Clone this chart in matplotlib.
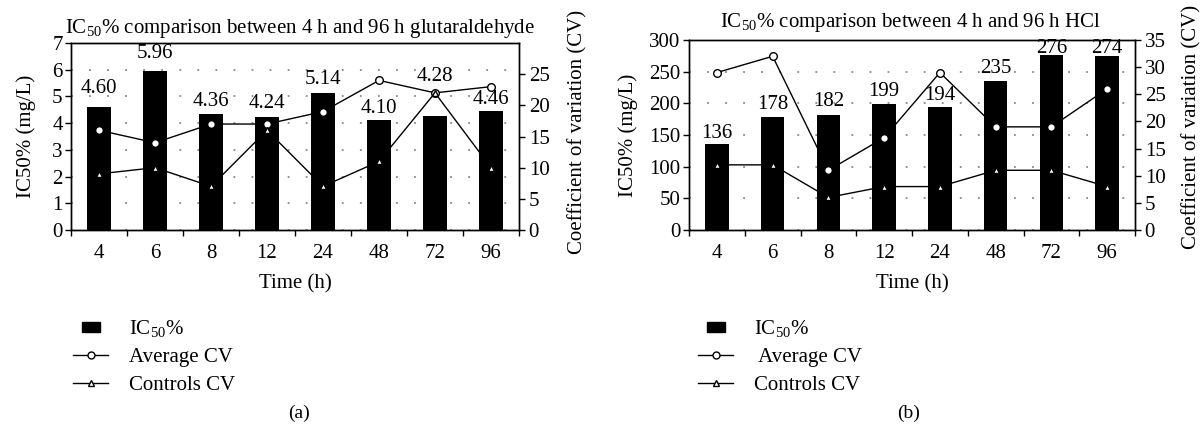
import matplotlib
matplotlib.use("Agg")
import matplotlib.pyplot as plt
from matplotlib.patches import Patch, Rectangle
from matplotlib.lines import Line2D
from matplotlib.legend_handler import HandlerPatch
import numpy as np

plt.rcParams['font.family'] = ['Liberation Serif', 'DejaVu Serif']
plt.rcParams['mathtext.fontset'] = 'custom'
plt.rcParams['mathtext.rm'] = 'Liberation Serif'
plt.rcParams['mathtext.it'] = 'Liberation Serif:italic'

# ---------------- data ----------------
times = ["4", "6", "8", "12", "24", "48", "72", "96"]

ic50_glut = [4.60, 5.96, 4.36, 4.24, 5.14, 4.10, 4.28, 4.46]
ic50_glut_labels = ["4.60", "5.96", "4.36", "4.24", "5.14", "4.10", "4.28", "4.46"]
avg_cv_glut = [16, 14, 17, 17, 19, 24, 22, 23]
ctrl_cv_glut = [9, 10, 7, 16, 7, 11, 22, 10]

ic50_hcl = [136, 178, 182, 199, 194, 235, 276, 274]
ic50_hcl_labels = ["136", "178", "182", "199", "194", "235", "276", "274"]
avg_cv_hcl = [29, 32, 11, 17, 29, 19, 19, 26]
ctrl_cv_hcl = [12, 12, 6, 8, 8, 11, 11, 8]

# label offsets above bar tops (pixels, to label centre)
label_dy_glut = [19, 17, 12, 13, 13, 12, 39, 11]
label_dy_hcl = [10, 13, 13.5, 12, 11.5, 13, 7, 8]

W, H = 1203, 428
fig = plt.figure(figsize=(W / 100, H / 100), dpi=100)
FS = 15


def small_rect(legend, orig_handle, xdescent, ydescent, width, height, fontsize):
    w = width * 0.5
    h = height * 0.75
    return Rectangle((-xdescent + (width - w) / 2, -ydescent + (height - h) / 2),
                     w, h, facecolor='black', edgecolor='black')


def panel(rect, ic50, labels, dys, avg, ctrl, ylim, yticks, ylim2, yticks2,
          title, title_x, title_y, leg_x, tag, tag_x, ylab_x, rlabel_x,
          rlabel_y):
    ax = fig.add_axes(rect)
    x = np.arange(len(times))
    ax.bar(x, ic50, width=0.42, color='black', zorder=2)
    ax.set_xlim(-0.5, len(times) - 0.5)
    ax.set_ylim(*ylim)
    ax.set_yticks(yticks)
    ax.set_yticklabels([str(t) for t in yticks], fontsize=FS)
    ax.set_xticks(x)
    ax.set_xticklabels(times, fontsize=FS)
    ax.set_xticks(np.arange(-0.5, len(times)), minor=True)
    ax.tick_params(axis='x', which='major', length=0, pad=10)
    ax.tick_params(axis='x', which='minor', length=4, width=1, direction='out')
    ax.tick_params(axis='y', length=4, width=1, direction='out', pad=2)
    ax.set_axisbelow(True)
    ax.yaxis.grid(True, color='#888888', linestyle=(0, (1, 9)), linewidth=1.3)
    for s in ax.spines.values():
        s.set_linewidth(1.0)
    ax.set_ylabel("IC50% (mg/L)", fontsize=FS)
    ax.yaxis.set_label_coords((ylab_x - rect[0] * W) / (rect[2] * W), 0.5)
    ax.set_xlabel("Time (h)", fontsize=FS, labelpad=8)

    for xi, v, lab, dy in zip(x, ic50, labels, dys):
        ax.annotate(lab, xy=(xi, v), xytext=(0, dy * 0.72),
                    textcoords='offset points', ha='center', va='center',
                    fontsize=FS, zorder=5)

    ax2 = ax.twinx()
    ax2.plot(x, avg, color='black', lw=1.0, marker='o', ms=5.5,
             mfc='white', mec='black', mew=1.0, zorder=3)
    ax2.plot(x, ctrl, color='black', lw=1.0, marker='^', ms=4.5,
             mfc='white', mec='black', mew=1.0, zorder=3)
    ax2.set_ylim(*ylim2)
    ax2.set_yticks(yticks2)
    ax2.set_yticklabels([str(t) for t in yticks2], fontsize=FS)
    ax2.tick_params(axis='y', length=4, width=1, direction='out', pad=3)
    for s in ax2.spines.values():
        s.set_linewidth(1.0)

    fig.text(rlabel_x / W, 1 - rlabel_y / H,
             "Coefficient of variation (CV)", rotation=90, fontsize=FS,
             ha='center', va='center')

    fig.text(title_x / W, 1 - title_y / H, title, fontsize=FS,
             ha='center', va='center')

    # legend
    handles = [Patch(facecolor='black', edgecolor='black'),
               Line2D([], [], color='black', lw=1.0, marker='o', ms=5,
                      mfc='white', mec='black'),
               Line2D([], [], color='black', lw=1.0, marker='^', ms=4.5,
                      mfc='white', mec='black')]
    names = ["IC$_{50}$%", "Average CV", "Controls CV"]
    if tag == "(b)":
        names[1] = " Average CV"
    fig.legend(handles, names, loc='upper left',
               bbox_to_anchor=(leg_x / W, 1 - 318 / H),
               frameon=False, fontsize=FS, handlelength=1.7,
               handleheight=0.6, handletextpad=1.0, labelspacing=0.42,
               borderaxespad=0, borderpad=0,
               handler_map={Patch: HandlerPatch(patch_func=small_rect)})
    fig.text(tag_x / W, 1 - 413 / H, tag, fontsize=FS - 1, ha='center',
             va='center')
    return ax, ax2


panel([71 / W, 1 - 230 / H, 448 / W, 187 / H], ic50_glut, ic50_glut_labels,
      label_dy_glut, avg_cv_glut, ctrl_cv_glut,
      (0, 7), list(range(0, 8)), (0, 30), list(range(0, 30, 5)),
      "IC$_{50}$% comparison between 4 h and 96 h glutaraldehyde", 300, 28,
      73, "(a)", 299, 36, 578, 132)

panel([689 / W, 1 - 230 / H, 446 / W, 190 / H], ic50_hcl, ic50_hcl_labels,
      label_dy_hcl, avg_cv_hcl, ctrl_cv_hcl,
      (0, 300), list(range(0, 301, 50)), (0, 35), list(range(0, 36, 5)),
      "IC$_{50}$% comparison between 4 h and 96 h HCl", 910, 23,
      698, "(b)", 909, 638, 1192, 127)

fig.savefig("out.png", dpi=100)
